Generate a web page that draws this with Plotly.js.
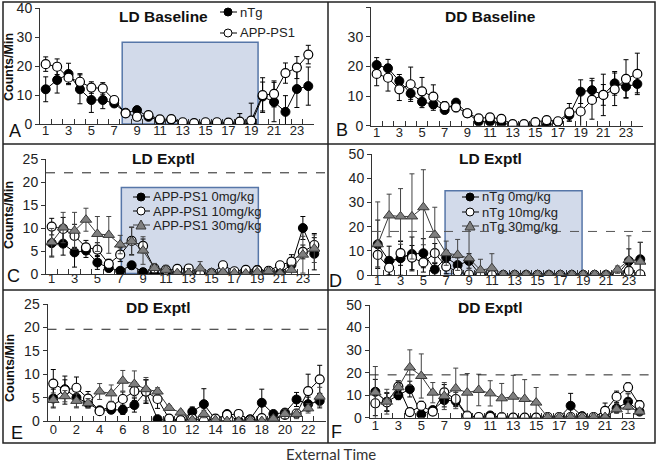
<!DOCTYPE html>
<html>
<head>
<meta charset="utf-8">
<script src="https://cdn.plot.ly/plotly-3.0.1.min.js"></script>
<style>
  html, body { margin: 0; padding: 0; background: #fff; }
  #chart { width: 657px; height: 463px; }
</style>
</head>
<body>
<div id="chart"></div>
<script>
// hours of the day
const hours = [1,2,3,4,5,6,7,8,9,10,11,12,13,14,15,16,17,18,19,20,21,22,23,24];
const hoursE = [0,1,2,3,4,5,6,7,8,9,10,11,12,13,14,15,16,17,18,19,20,21,22,23];

// A - LD baseline
const ldBaseNtg = [12,15.2,17.3,12,8.3,8.3,7.1,3.9,4.8,2.5,1.2,1.5,0.3,0,0,0,0,0.5,0,9.5,7.6,4.2,12.1,13.1];
const ldBaseNtgErr = [4.3,4.5,3.7,5,4.3,3,1,1,0.8,0.8,0.5,0.5,0.3,0.2,0.2,0.2,0.2,0.5,0.3,5,6.8,5.6,6.4,6.6];
const ldBaseApp = [20.7,19.8,16,14.6,12.6,12.3,8.3,3.7,2.5,3.1,1.6,1.7,0.6,0.3,0.6,0.6,0.5,0.8,1.2,10,10.4,17.6,19.5,24];
const ldBaseAppErr = [2.5,2.7,2,2.8,2,2,1,1,0.8,0.6,0.5,0.5,0.3,0.2,0.3,0.3,0.3,2.8,6,6,4.5,3.5,3.8,3.2];

// B - DD baseline
const ddBaseNtg = [20.5,19.4,15.1,10.9,8.1,7.2,5.3,7.8,4.2,1.4,1.4,0.8,0.3,0.3,0,0,1.3,3.6,11.5,12,10.4,14.3,13.2,14.1];
const ddBaseNtgErr = [2.5,3,2.2,2,2,2,1,1,0.8,0.8,0.6,0.5,0.2,0.2,0.2,0.2,0.5,2,4,4,3.5,4,3.7,3];
const ddBaseApp = [17.5,16.2,12.3,14,11.6,9.8,6.6,6.2,4.2,2.5,2.8,2.3,0.5,0.5,1.2,1.9,1.5,4.5,4.8,8.7,10.4,12.3,15.8,17.5];
const ddBaseAppErr = [4,4.5,3.8,5.8,4.7,4,1.5,1.5,1,0.8,0.8,0.6,0.3,0.3,0.5,0.6,0.6,3,6,6.5,7,5.5,6.5,7];

// C - LD exptl, APP-PS1
const ldExpApp0 = [6.7,6.6,4.7,5.1,2.5,1.3,0.7,1.9,0.4,0,0.3,0.2,0.1,0,0,0,0,0.2,0.9,0.4,0.3,2,10,4.4];
const ldExpApp0Err = [3,2.5,3.2,1.5,1.5,0.8,0.4,0.8,0.3,0,0.2,0.1,0.1,0,0,0,0,0.1,0.4,0.3,0.2,0.8,2.5,3.5];
const ldExpApp10 = [10.3,9.8,8.3,5.8,5.3,2.2,4.2,7.2,6.1,1.2,0.9,1.1,1.2,0,0.2,1.9,0.6,0.9,0.8,0.7,1.9,2.7,4.8,6.3];
const ldExpApp10Err = [1.8,2.5,2.5,1.5,1.5,1,1.5,3,1.5,0.8,0.5,0.5,0.5,0.1,0.2,0.5,0.3,0.4,0.4,0.3,0.6,1.5,1.5,2.5];
const ldExpApp30 = [6.9,10.1,9.4,11.8,8.7,8.5,6.4,7.1,5.1,1.3,0.9,0.2,0.2,1.2,0.3,0.4,0.2,0.1,0.4,0.6,0.2,0.9,4.2,5.5];
const ldExpApp30Err = [3,3.3,4,2.5,3.8,4,2,3,3,1,1,0.2,1,1.5,0.3,0.3,0.2,0.1,0.3,0.4,0.2,1,4,3];

// D - LD exptl, nTg
const ldExpNtg0 = [12.7,5.9,6.9,8.7,9,2.3,7.2,4.1,5.8,0,0,0,0,0,0,0,0,0,0,0,0,0.3,5.8,6.5];
const ldExpNtg0Err = [10,6,7,7,6,2.5,3,3,3,0,0,0,0,0,0,0,0,0,0,0,0,0.3,5,7];
const ldExpNtg10 = [8.3,3,9,7.2,5.2,9,3.5,1.4,0.2,0,0,0,0,0,0,0,0,0,0,0,0,0,1.7,0.3];
const ldExpNtg10Err = [5,3,5,5,4,4,3,1,0.2,0,0,0,0,0,0,0,0,0,0,0,0,0,2,0.3];
const ldExpNtg30 = [12.7,24.6,24.2,24.2,28,16.6,9,8.3,6.9,2,2.8,0.2,0.2,0.2,0.2,0.2,0.2,0.2,0.2,0.2,0.2,2.2,6.2,5.5];
const ldExpNtg30Err = [17.5,8.8,11.5,17.6,15.5,11.4,5,6.4,13,4.5,6,0.2,0.2,0.2,0.2,0.2,0.2,0.2,0.2,0.2,0.2,1.5,10,8];

// E - DD exptl, APP-PS1 (hours 0-23)
const ddExpApp0 = [4.8,6.8,5,3.8,2.3,2.4,2.4,3.4,6.3,0.4,0,0.1,2,3.6,0.3,1.5,0,0.4,3.9,1.5,1.8,4.6,3.6,4.3];
const ddExpApp0Err = [2,2,2,1,0.5,0.5,1,1.5,2.5,0.3,0,0.1,1,3.3,0.2,0.5,0,0.3,2.9,0.5,0.6,1.5,1.5,1.5];
const ddExpApp10 = [8,6.6,7.1,4.8,2.1,3.2,4.7,6.4,6.3,4.7,0.5,0.2,0.5,0,0.5,1.3,1.5,0.2,0.6,0.3,1.3,1.6,6.4,8.9];
const ddExpApp10Err = [3,3,2.3,1.5,0.5,1,1.5,2,2.5,2,0.3,0.2,0.3,0,0.3,0.5,0.8,0.2,0.4,0.2,0.6,0.8,3.6,3];
const ddExpApp30 = [4.5,5.3,4.3,3.8,6.3,5.9,8.6,7.9,6.8,6.3,2.8,1.8,0.2,1.5,0.2,0,0,0.2,0,0.5,1.5,1.5,2.7,5.2];
const ddExpApp30Err = [1.5,1.2,1.5,1,1.7,1.8,2.2,2.8,2.5,0.8,0.5,0.5,0.2,0.8,0.2,0,0,0.2,0,0.3,1,1,1,2];

// F - DD exptl, nTg
const ddExpNtg0 = [11.5,7.1,10,12.7,1.5,3.4,7.8,7.4,0.7,0,1,0,0,0,0,0,0,5.3,0.7,0,0,4.1,7.1,2.7];
const ddExpNtg0Err = [5.5,4,2,3.5,1,1,3,2.5,0.5,0,0.5,0,0,0,0,0,0,5.5,0.5,0,0,2,3.5,1.5];
const ddExpNtg10 = [6.4,6.8,13.8,2.5,5.3,2.7,11.2,8.3,0.9,0.3,0.3,0.3,0,0,0,0.3,0.3,0.3,0.3,0.3,3,9.3,13.5,5.6];
const ddExpNtg10Err = [5.5,4,2.5,1,2,1,3.5,3,0.5,0.2,0.2,0.2,0,0,0,0.2,0.2,0.2,0.2,0.2,3.5,2.5,2,2];
const ddExpNtg30 = [11.2,7.1,13.5,22.3,18.5,11.1,9.6,13,11.1,12.3,10.8,8.6,9.3,8.3,6.7,0.2,0.2,0.2,0.2,0.2,0.3,3.7,4.9,2.7];
const ddExpNtg30Err = [11.5,5.5,3,7.8,9.8,4.5,6,9,8.5,7,5.6,6.6,9.5,8.6,6.7,0.2,0.2,0.2,0.2,0.2,0.3,1.5,3,1.5];

const W = 657, H = 463;
const px = x => x / W;
const py = y => 1 - y / H;
const FONT = 'Liberation Sans, Arial, sans-serif';
const TRI_GRAY = '#7f7f7f';

const styles = {
    filled: { marker: { symbol: 'circle', size: 9, color: 'black', line: { color: 'black', width: 1 } }, line: { color: 'black', width: 1 } },
    open: { marker: { symbol: 'circle', size: 9, color: 'white', line: { color: 'black', width: 1.2 } }, line: { color: 'black', width: 1 } },
    tri: { marker: { symbol: 'triangle-up', size: 10, color: TRI_GRAY, line: { color: '#3a3a3a', width: 1 } }, line: { color: '#3a3a3a', width: 1 } },
};

function series(x, y, err, kind, n) {
    const s = styles[kind];
    return {
        x: x, y: y, type: 'scatter', mode: 'lines+markers',
        xaxis: 'x' + (n > 1 ? n : ''), yaxis: 'y' + (n > 1 ? n : ''),
        marker: s.marker, line: s.line, showlegend: false, hoverinfo: 'skip',
        error_y: { type: 'data', array: err, visible: true, color: kind === 'tri' ? '#444' : 'black', thickness: 1, width: 2.5 },
    };
}

const data = [
    series(hours, ldBaseNtg, ldBaseNtgErr, 'filled', 1),
    series(hours, ldBaseApp, ldBaseAppErr, 'open', 1),
    series(hours, ddBaseNtg, ddBaseNtgErr, 'filled', 2),
    series(hours, ddBaseApp, ddBaseAppErr, 'open', 2),
    series(hours, ldExpApp0, ldExpApp0Err, 'filled', 3),
    series(hours, ldExpApp10, ldExpApp10Err, 'open', 3),
    series(hours, ldExpApp30, ldExpApp30Err, 'tri', 3),
    series(hours, ldExpNtg0, ldExpNtg0Err, 'filled', 4),
    series(hours, ldExpNtg10, ldExpNtg10Err, 'open', 4),
    series(hours, ldExpNtg30, ldExpNtg30Err, 'tri', 4),
    series(hoursE, ddExpApp0, ddExpApp0Err, 'filled', 5),
    series(hoursE, ddExpApp10, ddExpApp10Err, 'open', 5),
    series(hoursE, ddExpApp30, ddExpApp30Err, 'tri', 5),
    series(hours, ddExpNtg0, ddExpNtg0Err, 'filled', 6),
    series(hours, ddExpNtg10, ddExpNtg10Err, 'open', 6),
    series(hours, ddExpNtg30, ddExpNtg30Err, 'tri', 6),
];

const layout = {
    width: W, height: H,
    margin: { l: 0, r: 0, t: 0, b: 0 },
    paper_bgcolor: 'white', plot_bgcolor: 'white',
    showlegend: false,
};

// panel geometry in pixels: x-left, x-right, y-top, y-bottom, x range, y max, y step, first label, label gap
const panels = [
    [40, 314, 8.3, 124, [0.5, 24.5], 40, 10, 1, -3],
    [371, 643, 7.3, 125.7, [0.5, 24.5], 40, 10, 1, -3],
    [46, 320, 159, 274, [0.5, 24.5], 25, 5, 1, -5],
    [372, 646, 154, 275, [0.5, 24.5], 50, 10, 1, -4],
    [47.5, 325.5, 304, 421, [-0.5, 23.5], 25, 5, 0, -1],
    [369.6, 645.3, 305, 417.7, [0.5, 24.5], 50, 10, 1, -2],
];

panels.forEach(function (p, i) {
    const n = i + 1;
    const s = n > 1 ? n : '';
    const xdom = [px(p[0]), px(p[1])];
    // data axis: line plus tick marks on the boundaries between hours
    layout['xaxis' + s] = {
        domain: xdom, range: p[4], anchor: 'y' + s,
        tickmode: 'linear', tick0: 0.5, dtick: 1, ticks: 'inside', ticklen: 5,
        tickcolor: '#333', tickwidth: 1, showticklabels: false,
        showline: true, linecolor: '#333', linewidth: 1,
        zeroline: false, showgrid: false, fixedrange: true,
    };
    // label axis laid over it: every other hour
    layout['xaxis' + (n + 6)] = {
        domain: xdom, range: p[4], anchor: 'y' + s, overlaying: 'x' + s,
        tickmode: 'linear', tick0: p[7], dtick: 2, ticks: '', showline: false,
        zeroline: false, showgrid: false, fixedrange: true,
        tickfont: { family: FONT, size: 13, color: '#222' },
        ticklabelstandoff: p[8],
    };
    data.push({ x: [], y: [], type: 'scatter', mode: 'markers', xaxis: 'x' + (n + 6), yaxis: 'y' + s,
        showlegend: false, hoverinfo: 'skip' });
    layout['yaxis' + s] = {
        domain: [py(p[3]), py(p[2])], range: [0, p[5]], dtick: p[6], anchor: 'x' + s,
        ticks: 'outside', ticklen: 4, tickcolor: '#333',
        showline: true, linecolor: '#333', linewidth: 1,
        zeroline: false, showgrid: false, fixedrange: true,
        tickfont: { family: FONT, size: 14, color: '#222' },
    };
});

const shapes = [];
const annotations = [];

// shaded boxes
function box(n, x0, x1, y0, y1) {
    const s = n > 1 ? n : '';
    shapes.push({ type: 'rect', xref: 'x' + s, yref: 'y' + s, x0: x0, x1: x1, y0: y0, y1: y1,
        fillcolor: '#d2daea', line: { color: '#5676a8', width: 1.5 }, layer: 'below' });
}
box(1, 7.7, 19.6, 0, 28.3);
box(3, 7.1, 19.1, 0.1, 18.8);
box(4, 6.9, 18.9, 0.5, 34.8);

// dashed reference lines
function dashed(n, y, color) {
    const s = n > 1 ? n : '';
    shapes.push({ type: 'line', xref: 'x' + s + ' domain', yref: 'y' + s, x0: 0, x1: 1.02, y0: y, y1: y,
        line: { color: color, width: 1, dash: 'dash' } });
}
dashed(3, 22, '#222');
dashed(4, 18, '#555');
dashed(5, 19.6, '#222');
dashed(6, 19, '#222');

// panel borders
const border = { color: '#222', width: 1.5 };
shapes.push({ type: 'rect', xref: 'paper', yref: 'paper', x0: px(3), x1: px(655), y0: py(443), y1: py(2), line: border });
shapes.push({ type: 'line', xref: 'paper', yref: 'paper', x0: px(3), x1: px(655), y0: py(144), y1: py(144), line: border });
shapes.push({ type: 'line', xref: 'paper', yref: 'paper', x0: px(3), x1: px(655), y0: py(290), y1: py(290), line: border });
shapes.push({ type: 'line', xref: 'paper', yref: 'paper', x0: px(328), x1: px(328), y0: py(443), y1: py(2), line: border });

// hand-placed legend entries
function legendEntry(x, y, kind, label) {
    shapes.push({ type: 'line', xref: 'paper', yref: 'paper', x0: px(x - 8), x1: px(x + 9), y0: py(y), y1: py(y),
        line: { color: kind === 'tri' ? '#3a3a3a' : 'black', width: 1 } });
    const r = 4;
    if (kind === 'tri') {
        const path = 'M' + px(x - 5) + ',' + py(y + 4) + ' L' + px(x + 5) + ',' + py(y + 4) + ' L' + px(x) + ',' + py(y - 5) + ' Z';
        shapes.push({ type: 'path', xref: 'paper', yref: 'paper', path: path, fillcolor: TRI_GRAY, line: { color: '#3a3a3a', width: 1 } });
    } else {
        shapes.push({ type: 'circle', xref: 'paper', yref: 'paper', x0: px(x - r), x1: px(x + r), y0: py(y + r), y1: py(y - r),
            fillcolor: kind === 'filled' ? 'black' : 'white', line: { color: 'black', width: 1 } });
    }
    annotations.push({ xref: 'paper', yref: 'paper', x: px(x + 10), y: py(y), xanchor: 'left', yanchor: 'middle',
        text: label, showarrow: false, font: { family: FONT, size: 13, color: '#222' } });
}
legendEntry(228, 12, 'filled', 'nTg');
legendEntry(228, 33, 'open', 'APP-PS1');
legendEntry(141, 197, 'filled', 'APP-PS1 0mg/kg');
legendEntry(141, 211, 'open', 'APP-PS1 10mg/kg');
legendEntry(141, 225, 'tri', 'APP-PS1 30mg/kg');
legendEntry(470, 197, 'filled', 'nTg 0mg/kg');
legendEntry(470, 212, 'open', 'nTg 10mg/kg');
legendEntry(470, 226, 'tri', 'nTg 30mg/kg');

// text
function label(x, y, text, size, bold, extra) {
    annotations.push(Object.assign({ xref: 'paper', yref: 'paper', x: px(x), y: py(y), xanchor: 'center', yanchor: 'middle',
        text: bold ? '<b>' + text + '</b>' : text, showarrow: false, font: { family: FONT, size: size, color: '#111' } }, extra || {}));
}
label(163, 17, 'LD Baseline', 15.5, true);
label(490, 17, 'DD Baseline', 15.5, true);
label(163, 158, 'LD Exptl', 15.5, true);
label(490, 158, 'LD Exptl', 15.5, true);
label(158, 307, 'DD Exptl', 15.5, true);
label(490, 307, 'DD Exptl', 15.5, true);
label(9, 67, 'Counts/Min', 12.5, true, { textangle: -90 });
label(9, 215, 'Counts/Min', 12.5, true, { textangle: -90 });
label(10, 368, 'Counts/Min', 12.5, true, { textangle: -90 });
label(15, 131, 'A', 18, false);
label(342, 130, 'B', 18, false);
label(13, 276, 'C', 18, false);
label(335, 281, 'D', 18, false);
label(17, 433, 'E', 18, false);
label(336, 432, 'F', 18, false);
annotations.push({ xref: 'paper', yref: 'paper', x: px(331), y: py(454), xanchor: 'center', yanchor: 'middle',
    text: 'External Time', showarrow: false, font: { family: 'Lato, Open Sans, sans-serif', size: 15, color: '#333' } });

layout.shapes = shapes;
layout.annotations = annotations;

Plotly.newPlot('chart', data, layout, { displayModeBar: false, staticPlot: true });
</script>
</body>
</html>
